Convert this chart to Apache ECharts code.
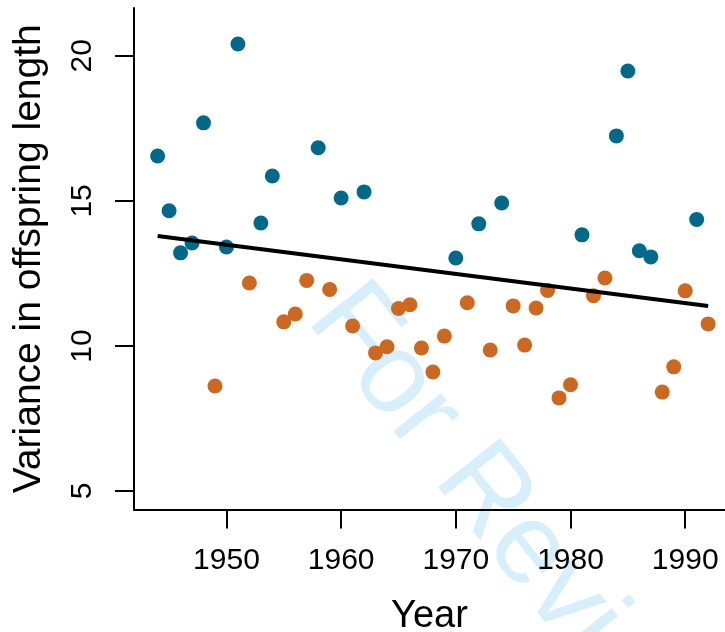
<!DOCTYPE html>
<html>
<head>
<meta charset="utf-8">
<script src="https://cdn.jsdelivr.net/npm/echarts@6/dist/echarts.min.js"></script>
<style>
  html, body { margin: 0; padding: 0; background: #fff; }
  #chart { width: 725px; height: 632px; }
</style>
</head>
<body>
<div id="chart"></div>
<script>
// values
const blueYears = [1944, 1945, 1946, 1947, 1948, 1950, 1951, 1953, 1954, 1958, 1960,
  1962, 1970, 1972, 1974, 1981, 1984, 1985, 1986, 1987, 1991];
const blueValues = [16.55, 14.66, 13.21, 13.55, 17.69, 13.41, 20.41, 14.24, 15.86, 16.83, 15.10,
  15.31, 13.03, 14.21, 14.93, 13.83, 17.24, 19.48, 13.28, 13.07, 14.36];

const orangeYears = [1949, 1952, 1955, 1956, 1957, 1959, 1961, 1963, 1964, 1965, 1966, 1967,
  1968, 1969, 1971, 1973, 1975, 1976, 1977, 1978, 1979, 1980, 1982, 1983, 1988, 1989, 1990, 1992];
const orangeValues = [8.62, 12.17, 10.83, 11.10, 12.26, 11.95, 10.69, 9.76, 9.97, 11.29, 11.42, 9.93,
  9.10, 10.34, 11.49, 9.86, 11.38, 10.03, 11.31, 11.91, 8.21, 8.66, 11.73, 12.34, 8.41, 9.28, 11.90, 10.76];

const trendYears = [1944, 1992];
const trendValues = [13.79, 11.38];

const xTicks = [1950, 1960, 1970, 1980, 1990];
const yTicks = [5, 10, 15, 20];

const font = 'Liberation Sans, Arial, Helvetica, sans-serif';
const pair = (xs, ys) => xs.map((x, i) => [x, ys[i]]);

const chart = echarts.init(document.getElementById('chart'));

chart.setOption({
  animation: false,
  grid: { left: 134, right: 0, top: 8, bottom: 122.5, outerBoundsMode: 'none' },
  xAxis: {
    type: 'value',
    min: 1941.94,
    max: 1993.47,
    name: 'Year',
    nameLocation: 'middle',
    nameGap: 88,
    nameTextStyle: { color: '#000', fontSize: 38, fontFamily: font },
    axisLine: { show: true, onZero: false, lineStyle: { color: '#000', width: 2 } },
    axisTick: { show: true, length: 19, customValues: xTicks, lineStyle: { color: '#000', width: 2 } },
    axisLabel: {
      customValues: xTicks,
      formatter: (v) => String(v),
      color: '#000',
      fontSize: 30,
      fontFamily: font,
      margin: 36,
    },
    splitLine: { show: false },
  },
  yAxis: {
    type: 'value',
    min: 4.362,
    max: 21.65,
    name: 'Variance in offspring length',
    nameLocation: 'middle',
    nameGap: 85,
    nameTextStyle: { color: '#000', fontSize: 39, fontFamily: font },
    axisLine: { show: true, onZero: false, lineStyle: { color: '#000', width: 2 } },
    axisTick: { show: true, length: 19, customValues: yTicks, lineStyle: { color: '#000', width: 2 } },
    axisLabel: {
      customValues: yTicks,
      formatter: (v) => String(v),
      rotate: 90,
      color: '#000',
      fontSize: 30,
      fontFamily: font,
      margin: 36,
    },
    splitLine: { show: false },
  },
  graphic: [
    {
      type: 'text',
      x: 330,
      y: 300,
      rotation: -0.9,
      z: -10,
      silent: true,
      style: {
        text: 'For Review',
        fill: '#d6effb',
        font: '115px ' + font,
        align: 'left',
        verticalAlign: 'middle',
      },
    },
  ],
  series: [
    {
      name: 'high',
      type: 'scatter',
      symbolSize: 15,
      itemStyle: { color: '#03698b', opacity: 1 },
      data: pair(blueYears, blueValues),
    },
    {
      name: 'low',
      type: 'scatter',
      symbolSize: 15,
      itemStyle: { color: '#cc6820', opacity: 1 },
      data: pair(orangeYears, orangeValues),
    },
    {
      name: 'trend',
      type: 'line',
      showSymbol: false,
      z: 5,
      lineStyle: { color: '#000', width: 4 },
      data: pair(trendYears, trendValues),
    },
  ],
});
</script>
</body>
</html>
